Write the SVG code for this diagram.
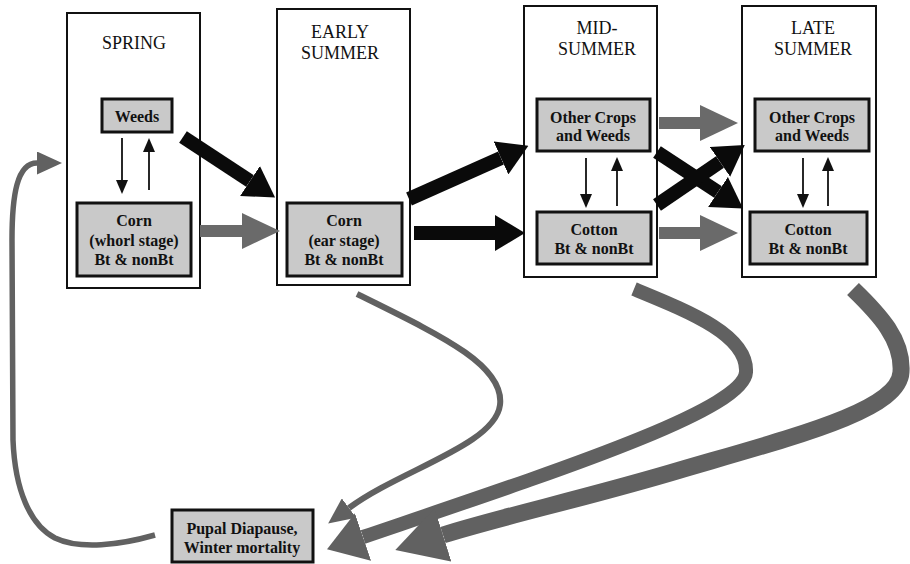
<svg xmlns="http://www.w3.org/2000/svg" width="910" height="564" viewBox="0 0 910 564">
<style>
.season{fill:#fff;stroke:#111;stroke-width:2}
.node{fill:#c9c9c9;stroke:#111;stroke-width:3}
.title{font-family:"Liberation Serif","Times New Roman",serif;font-size:18px;fill:#111;text-anchor:middle}
.lbl{font-family:"Liberation Serif","Times New Roman",serif;font-size:16px;font-weight:bold;fill:#111;text-anchor:middle}
.blk{fill:none;stroke:#0a0a0a;stroke-width:14}
.gry{fill:none;stroke:#6a6a6a;stroke-width:12}
.thin{fill:none;stroke:#111;stroke-width:1.8}
.crv{fill:none;stroke:#616161}
</style>
<defs>
<marker id="mBlk" markerUnits="userSpaceOnUse" viewBox="0 0 30 36" markerWidth="30" markerHeight="36" refX="0" refY="18" orient="auto"><path d="M0,0L30,18L0,36z" fill="#0a0a0a"/></marker>
<marker id="mGry" markerUnits="userSpaceOnUse" viewBox="0 0 38 36" markerWidth="38" markerHeight="36" refX="0" refY="18" orient="auto"><path d="M0,0L38,18L0,36z" fill="#6a6a6a"/></marker>
<marker id="mThin" markerUnits="userSpaceOnUse" viewBox="0 0 14 12" markerWidth="14" markerHeight="12" refX="0" refY="6" orient="auto"><path d="M0,0L14,6L0,12z" fill="#111"/></marker>
<marker id="mCs" markerUnits="userSpaceOnUse" viewBox="0 0 26 24" markerWidth="26" markerHeight="24" refX="0" refY="12" orient="auto"><path d="M0,0L26,12L0,24z" fill="#616161"/></marker>
<marker id="mCl" markerUnits="userSpaceOnUse" viewBox="0 0 38 50" markerWidth="38" markerHeight="50" refX="0" refY="25" orient="auto"><path d="M0,0L38,25L0,50z" fill="#616161"/></marker>
<marker id="mCx" markerUnits="userSpaceOnUse" viewBox="0 0 50 56" markerWidth="50" markerHeight="56" refX="0" refY="28" orient="auto"><path d="M0,0L50,28L0,56z" fill="#616161"/></marker>
<marker id="mCt" markerUnits="userSpaceOnUse" viewBox="0 0 25 23" markerWidth="25" markerHeight="23" refX="0" refY="11.5" orient="auto"><path d="M0,0L25,11.5L0,23z" fill="#616161"/></marker>
</defs>

<g id="spring">
<rect class="season" x="67" y="13" width="133" height="275"/>
<text class="title" x="134" y="49">SPRING</text>
</g>
<g id="early-summer">
<rect class="season" x="277" y="9" width="133" height="276"/>
<text class="title" x="340" y="38">EARLY</text>
<text class="title" x="340" y="59">SUMMER</text>
</g>
<g id="mid-summer">
<rect class="season" x="524" y="6" width="133" height="271"/>
<text class="title" x="597" y="34">MID-</text>
<text class="title" x="597" y="55">SUMMER</text>
</g>
<g id="late-summer">
<rect class="season" x="742" y="6" width="134" height="271"/>
<text class="title" x="813" y="34">LATE</text>
<text class="title" x="813" y="55">SUMMER</text>
</g>

<g id="spring-weeds">
<rect class="node" x="102" y="99" width="70" height="33"/>
<text class="lbl" x="137" y="122">Weeds</text>
</g>
<g id="spring-corn">
<rect class="node" x="77" y="203" width="114" height="73"/>
<text class="lbl" x="134" y="226">Corn</text>
<text class="lbl" x="134" y="246">(whorl stage)</text>
<text class="lbl" x="134" y="265">Bt &amp; nonBt</text>
</g>
<g id="early-corn">
<rect class="node" x="287" y="203" width="115" height="73"/>
<text class="lbl" x="344" y="226">Corn</text>
<text class="lbl" x="344" y="246">(ear stage)</text>
<text class="lbl" x="344" y="265">Bt &amp; nonBt</text>
</g>
<g id="mid-other">
<rect class="node" x="537" y="99" width="113" height="52"/>
<text class="lbl" x="593" y="123">Other Crops</text>
<text class="lbl" x="593" y="141">and Weeds</text>
</g>
<g id="mid-cotton">
<rect class="node" x="537" y="212" width="114" height="52"/>
<text class="lbl" x="594" y="235">Cotton</text>
<text class="lbl" x="594" y="254">Bt &amp; nonBt</text>
</g>
<g id="late-other">
<rect class="node" x="755" y="99" width="114" height="52"/>
<text class="lbl" x="812" y="123">Other Crops</text>
<text class="lbl" x="812" y="141">and Weeds</text>
</g>
<g id="late-cotton">
<rect class="node" x="750" y="212" width="117" height="52"/>
<text class="lbl" x="808" y="235">Cotton</text>
<text class="lbl" x="808" y="254">Bt &amp; nonBt</text>
</g>
<g id="pupal">
<rect class="node" x="172" y="510" width="141" height="52"/>
<text class="lbl" x="242" y="534">Pupal Diapause,</text>
<text class="lbl" x="242" y="553">Winter mortality</text>
</g>

<g id="connectors">
<path class="thin" d="M122,138V180" marker-end="url(#mThin)"/>
<path class="thin" d="M149,190V152" marker-end="url(#mThin)"/>
<path class="thin" d="M586,158V194" marker-end="url(#mThin)"/>
<path class="thin" d="M617,206V171" marker-end="url(#mThin)"/>
<path class="thin" d="M803,158V194" marker-end="url(#mThin)"/>
<path class="thin" d="M828,206V171" marker-end="url(#mThin)"/>

<path class="blk" d="M183,137L250,181" marker-end="url(#mBlk)"/>
<path class="gry" d="M200,231H242" marker-end="url(#mGry)"/>
<path class="blk" d="M409,199L501,158" marker-end="url(#mBlk)"/>
<path class="blk" d="M414,233H495" marker-end="url(#mBlk)"/>
<path class="gry" d="M659,123H700" marker-end="url(#mGry)"/>
<path class="gry" d="M659,233H700" marker-end="url(#mGry)"/>
<path class="blk" d="M657,152L718,192" marker-end="url(#mBlk)"/>
<path class="blk" d="M657,205L720,162" marker-end="url(#mBlk)"/>

<path class="crv" stroke-width="6" d="M357,294C440,335 505,365 500,405C495,445 400,470 349,508" marker-end="url(#mCs)"/>
<path class="crv" stroke-width="14" d="M634,289C690,312 748,335 746,372C744,410 560,470 363,537" marker-end="url(#mCl)"/>
<path class="crv" stroke-width="17" d="M853,289C880,315 903,340 901,372C899,410 800,435 680,470C590,497 500,517 443,535" marker-end="url(#mCx)"/>
<path class="crv" stroke-width="5.5" d="M155,535C120,545 80,550 55,538C30,525 15,490 13,440L12,240C12,195 17,163 37,163" marker-end="url(#mCt)"/>
</g>
</svg>
